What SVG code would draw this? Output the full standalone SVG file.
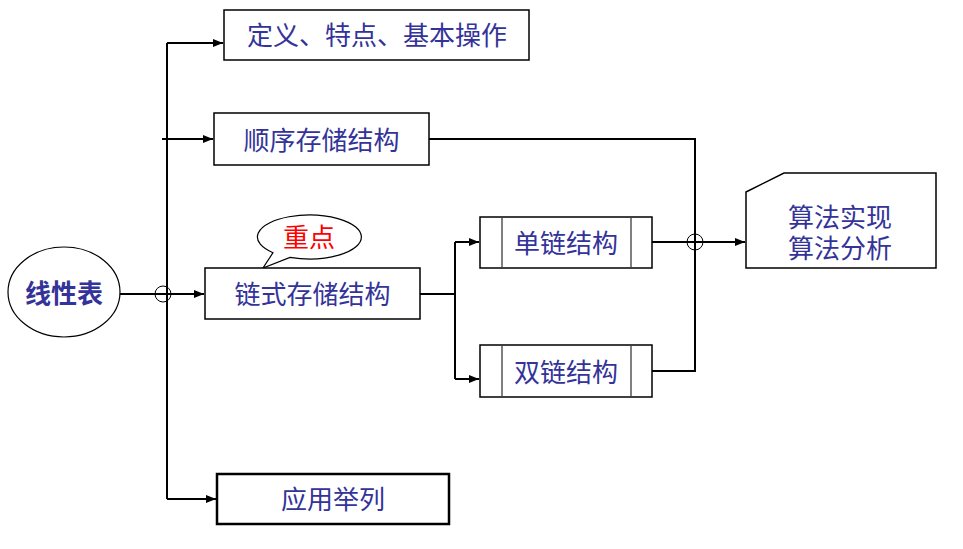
<svg xmlns="http://www.w3.org/2000/svg" width="963" height="549" viewBox="0 0 963 549">
<style>
.box{fill:#fff;stroke:#000;stroke-width:1.5}
.t{font-family:"Noto Sans CJK SC","Noto Sans",sans-serif;font-size:26px;fill:#333399;text-anchor:middle;dominant-baseline:central}
.ln{fill:none;stroke:#000;stroke-width:2}
.jump{fill:none;stroke:#000;stroke-width:1}
.inner{stroke:#808080;stroke-width:2}
</style>
<defs>
<marker id="arr" viewBox="0 0 10 10" refX="10" refY="5" markerWidth="10" markerHeight="10" markerUnits="userSpaceOnUse" orient="auto">
<path d="M0,1 L10,5 L0,9 Z" fill="#000"/>
</marker>
</defs>
<rect width="963" height="549" fill="#fff"/>
<g id="connectors">
<path class="ln" d="M167,43 V499"/>
<path class="ln" d="M167,43 H223" marker-end="url(#arr)"/>
<path class="ln" d="M162,139 H213" marker-end="url(#arr)"/>
<path class="ln" d="M167,499 H216" marker-end="url(#arr)"/>
<path class="ln" d="M120,294 H204" marker-end="url(#arr)"/>
<circle class="jump" cx="163" cy="294" r="8"/>
<path class="ln" d="M420,294 H455"/>
<path class="ln" d="M455,242 V379"/>
<path class="ln" d="M455,242 H479" marker-end="url(#arr)"/>
<path class="ln" d="M455,379 H479" marker-end="url(#arr)"/>
<path class="ln" d="M429,139 H695 V371 H652"/>
<path class="ln" d="M652,242 H745" marker-end="url(#arr)"/>
<circle class="jump" cx="695" cy="242" r="8"/>
</g>
<g id="n-root">
<ellipse cx="64" cy="292" rx="56" ry="45" fill="#fff" stroke="#000" stroke-width="1.2"/>
<text class="t" x="64" y="291" font-weight="bold">线性表</text>
</g>
<g id="n-def">
<rect class="box" x="224" y="10" width="305" height="50"/>
<text class="t" x="377" y="33.5">定义、特点、基本操作</text>
</g>
<g id="n-seq">
<rect class="box" x="214" y="113" width="215" height="52"/>
<text class="t" x="321.5" y="138">顺序存储结构</text>
</g>
<g id="n-bubble">
<path d="M273,252.7 L263,268 L290,257.4 A52,22 0 1 0 273,252.7 Z" fill="#fff" stroke="#000" stroke-width="1.2"/>
<text class="t" x="309" y="235.5" style="fill:#ff0000">重点</text>
</g>
<g id="n-link">
<rect class="box" x="205" y="268" width="215" height="51"/>
<text class="t" x="312.5" y="292">链式存储结构</text>
</g>
<g id="n-single">
<rect class="box" x="480" y="217" width="172" height="51"/>
<line class="inner" x1="502" y1="218" x2="502" y2="267"/>
<line class="inner" x1="631" y1="218" x2="631" y2="267"/>
<text class="t" x="566" y="241">单链结构</text>
</g>
<g id="n-double">
<rect class="box" x="480" y="345" width="172" height="52"/>
<line class="inner" x1="502" y1="346" x2="502" y2="396"/>
<line class="inner" x1="631" y1="346" x2="631" y2="396"/>
<text class="t" x="566" y="370">双链结构</text>
</g>
<g id="n-algo">
<path d="M746,192 L784,173 H936 V268 H746 Z" fill="#fff" stroke="#000" stroke-width="1.5"/>
<text class="t" x="840" y="214.5"><tspan x="840">算法实现</tspan><tspan x="840" dy="31">算法分析</tspan></text>
</g>
<g id="n-app">
<rect x="217" y="474" width="232" height="50" fill="#fff" stroke="#000" stroke-width="2.5"/>
<text class="t" x="333" y="497.5">应用举列</text>
</g>
</svg>
